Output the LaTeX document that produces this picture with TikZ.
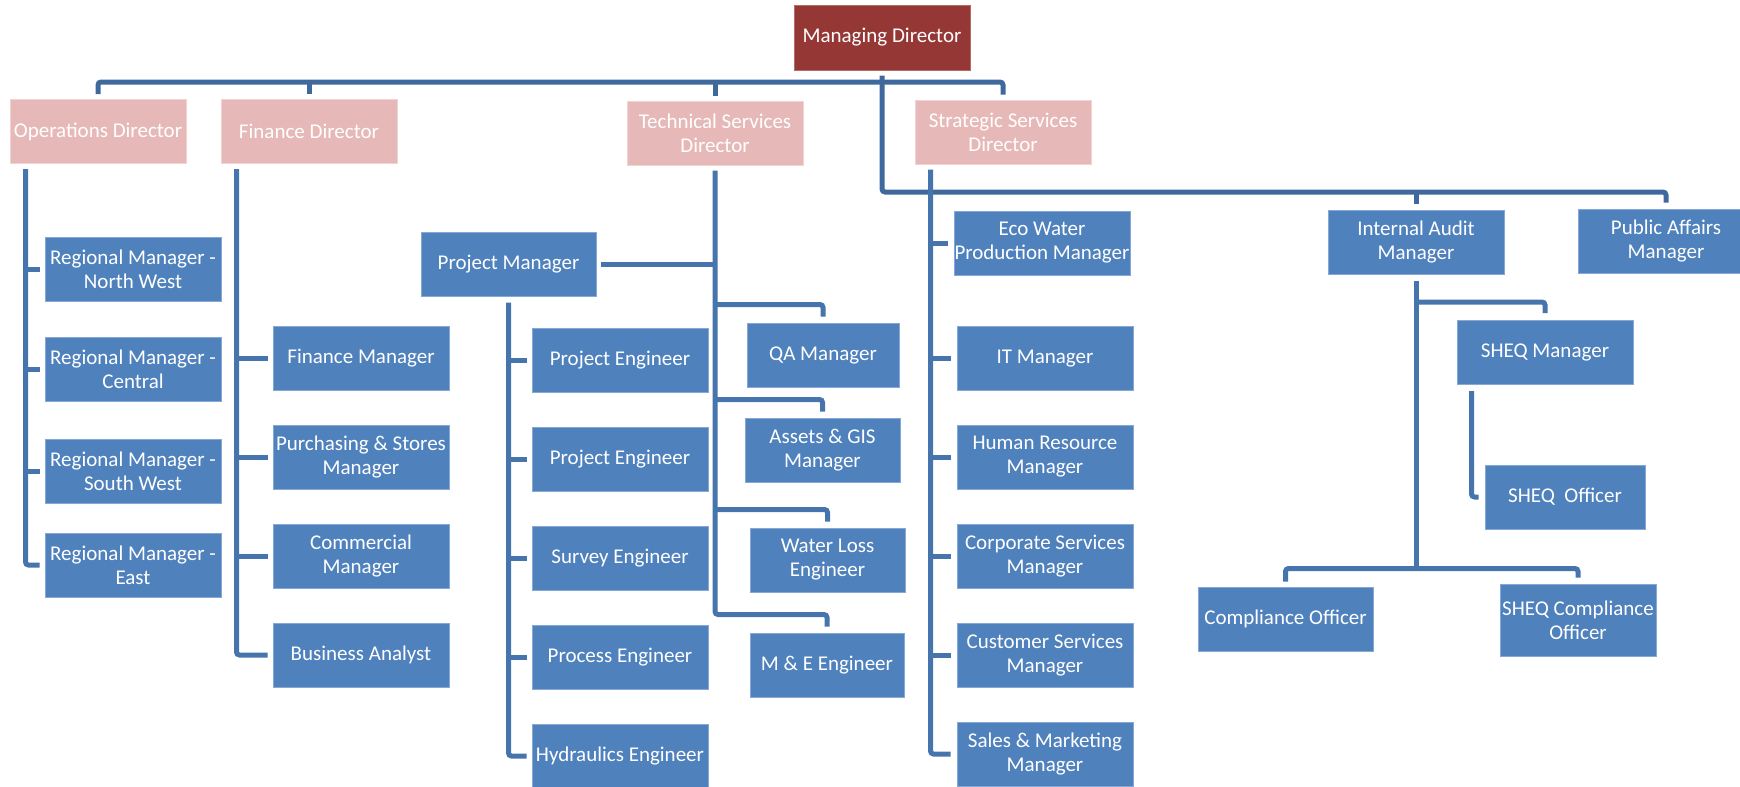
\documentclass[tikz,border=0pt]{standalone}
\usepackage{fontspec}
\setmainfont{Carlito}
\definecolor{boxblue}{HTML}{4F81BD}
\definecolor{boxedge}{HTML}{86A8D6}
\definecolor{pinkd}{HTML}{E6B9B8}
\definecolor{pinkedge}{HTML}{F2D3D2}
\definecolor{mdred}{HTML}{953735}
\definecolor{mdedge}{HTML}{B86A68}
\definecolor{linec}{HTML}{4674AC}
\definecolor{busc}{HTML}{3F699C}
\begin{document}
\begin{tikzpicture}[x=1pt,y=-1pt,
  box/.style={rectangle, fill=boxblue, draw=boxedge, line width=1pt, text=white, align=center,
    inner sep=0pt, minimum width=176pt, minimum height=64pt, font=\fontsize{21}{24}\selectfont},
  dirbox/.style={box, fill=pinkd, draw=pinkedge},
  mdbox/.style={box, fill=mdred, draw=mdedge},
  spine/.style={draw=linec, line width=5pt, rounded corners=3pt},
  bus/.style={spine, draw=busc}]
\clip (0,0) rectangle (1740,787);
% top levels
\node[mdbox, minimum height=65pt] (md) at (882,37.5) {Managing Director};
\node[dirbox] (opsd) at (98,131.5) {Operations Director};
\node[dirbox] (find) at (309,131.5) {Finance Director};
\node[dirbox] (techd) at (715,133) {Technical Services\\Director};
\node[dirbox] (strd) at (1003,132) {Strategic Services\\Director};
% operations
\node[box] (rnw) at (133,269) {Regional Manager -\\North West};
\node[box] (rc) at (133,369) {Regional Manager -\\Central};
\node[box] (rsw) at (133,471) {Regional Manager -\\South West};
\node[box] (re) at (133,565) {Regional Manager -\\East};
% finance
\node[box] (fm) at (361,358) {Finance Manager};
\node[box] (ps) at (361,457) {Purchasing \& Stores\\Manager};
\node[box] (cm) at (361,556) {Commercial\\Manager};
\node[box] (ba) at (361,655) {Business Analyst};
% technical
\node[box, minimum width=175pt] (pm) at (508.5,264) {Project Manager};
\node[box] (pe1) at (620,360) {Project Engineer};
\node[box] (pe2) at (620,459) {Project Engineer};
\node[box] (se) at (620,558) {Survey Engineer};
\node[box] (pre) at (620,657) {Process Engineer};
\node[box] (he) at (620,756) {Hydraulics Engineer};
\node[box, minimum width=152pt] (qa) at (823,355) {QA Manager};
\node[box, minimum width=155pt] (ag) at (822.5,450) {Assets \& GIS\\Manager};
\node[box, minimum width=155pt] (wl) at (827.5,560) {Water Loss\\Engineer};
\node[box, minimum width=154pt] (me) at (827,665) {M \& E Engineer};
% strategic
\node[box] (eco) at (1042,243) {Eco Water\\Production Manager};
\node[box] (it) at (1045,358.5) {IT Manager};
\node[box] (hr) at (1045,457) {Human Resource\\Manager};
\node[box] (cs) at (1045,556) {Corporate Services\\Manager};
\node[box] (cus) at (1045,655) {Customer Services\\Manager};
\node[box] (sm) at (1045,754) {Sales \& Marketing\\Manager};
% right side
\node[box] (ia) at (1416,242) {Internal Audit\\Manager};
\node[box] (pa) at (1666,241) {Public Affairs\\Manager};
\node[box] (sheqm) at (1545,352.5) {SHEQ Manager};
\node[box, minimum width=160pt] (sheqo) at (1565,497) {SHEQ~~Officer};
\node[box, minimum width=175pt] (co) at (1285.5,619) {Compliance Officer};
\node[box, minimum width=156pt, minimum height=72pt] (sco) at (1578,620) {SHEQ Compliance\\Officer};

% buses
\coordinate (tb) at (0,82);
\coordinate (rb) at (0,192);
\draw[bus] ([yshift=5pt]opsd.north) -- (opsd.north |- tb) -- (strd.north |- tb) -- ([yshift=5pt]strd.north);
\draw[bus] (find.north |- tb) -- ([yshift=5pt]find.north);
\draw[bus] (techd.north |- tb) -- ([yshift=5pt]techd.north);
\draw[bus] ([yshift=-5pt]md.south) -- (md.south |- rb) -- (pa.north |- rb) -- ([yshift=6pt]pa.north);
\draw[bus] (ia.north |- rb) -- ([yshift=6pt]ia.north);

% operations spine
\coordinate (opsS) at ([xshift=16pt,yshift=-5pt]opsd.south west);
\draw[spine] (opsS) |- ([xshift=-5pt]re.west);
\foreach \n in {rnw,rc,rsw}{\draw[spine] (opsS |- \n.west) -- ([xshift=-5pt]\n.west);}

% finance spine
\coordinate (finS) at ([xshift=16pt,yshift=-5pt]find.south west);
\draw[spine] (finS) |- ([xshift=-5pt]ba.west);
\foreach \n in {fm,ps,cm}{\draw[spine] (finS |- \n.west) -- ([xshift=-5pt]\n.west);}

% technical spine
\coordinate (techS) at ([yshift=-5pt]techd.south);
\coordinate (meb) at ([yshift=18pt]me.north);
\draw[spine] (techS) -- (techS |- meb) -- (meb) -- ([yshift=6pt]me.north);
\foreach \n in {qa,ag,wl}{
  \coordinate (\n b) at ([yshift=18pt]\n.north);
  \draw[spine] (techS |- \n b) -- (\n b) -- ([yshift=6pt]\n.north);}
\draw[spine] ([xshift=4pt]pm.east) -- (pm.east -| techS);

% project manager spine
\coordinate (pmS) at ([yshift=-6pt]pm.south);
\draw[spine] (pmS) |- ([xshift=-5pt]he.west);
\foreach \n in {pe1,pe2,se,pre}{\draw[spine] (pmS |- \n.west) -- ([xshift=-5pt]\n.west);}

% strategic spine
\coordinate (strS) at ([xshift=16pt,yshift=-5pt]strd.south west);
\draw[spine] (strS) |- ([xshift=-6pt]sm.west);
\foreach \n in {eco,it,hr,cs,cus}{\draw[spine] (strS |- \n.west) -- ([xshift=-6pt]\n.west);}

% internal audit
\coordinate (iaS) at ([yshift=-6pt]ia.south);
\coordinate (iab) at ([yshift=18pt]co.north);
\coordinate (smb) at ([yshift=18pt]sheqm.north);
\draw[spine] (iaS) -- (iaS |- iab);
\draw[spine] (iaS |- iab) -| ([yshift=5pt]co.north);
\draw[spine] (iaS |- iab) -| ([yshift=6pt]sco.north);
\draw[spine] (iaS |- smb) -| ([yshift=7pt]sheqm.north);
\coordinate (shS) at ([xshift=15pt,yshift=-6pt]sheqm.south west);
\draw[spine] (shS) |- ([xshift=-6pt]sheqo.west);
\end{tikzpicture}
\end{document}
